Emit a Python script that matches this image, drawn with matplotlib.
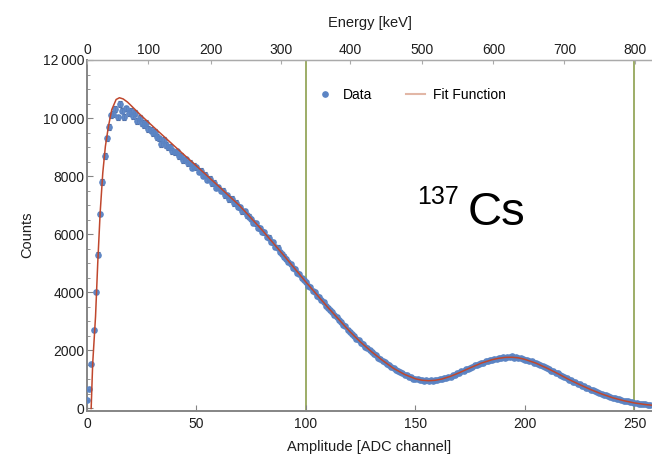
import numpy as np
import matplotlib
matplotlib.use("Agg")
import matplotlib.pyplot as plt
from matplotlib.lines import Line2D
from matplotlib.ticker import MultipleLocator, FuncFormatter

plt.rcParams['font.family'] = ['Liberation Sans', 'DejaVu Sans']

# ---------------- data ----------------
data_counts = [
    280, 660, 1530, 2700, 4000, 5300, 6700, 7800, 8700, 9300,
    9700, 10090, 10150, 10300, 10020, 10480, 10260, 10050, 10330, 10180,
    10250, 10060, 10180, 9900, 10010, 9820, 9760, 9840, 9620, 9580,
    9480, 9520, 9350, 9300, 9110, 9250, 9080, 8990, 9010, 8870,
    8820, 8850, 8700, 8690, 8540, 8580, 8450, 8470, 8290, 8350,
    8300, 8150, 8180, 8020, 8040, 7880, 7910, 7760, 7780, 7600,
    7620, 7490, 7500, 7340, 7350, 7200, 7230, 7060, 7080, 6950,
    6930, 6790, 6800, 6650, 6600, 6520, 6400, 6380, 6230, 6200,
    6090, 6060, 5910, 5880, 5740, 5720, 5560, 5540, 5400, 5330,
    5230, 5150, 5040, 4990, 4850, 4810, 4670, 4640, 4500, 4440,
    4340, 4230, 4190, 4060, 4010, 3880, 3840, 3720, 3660, 3540,
    3470, 3380, 3330, 3210, 3160, 3040, 2990, 2880, 2830, 2710,
    2640, 2560, 2510, 2400, 2360, 2260, 2220, 2130, 2090, 2000,
    1960, 1870, 1840, 1750, 1720, 1640, 1610, 1530, 1500, 1420,
    1390, 1320, 1300, 1240, 1220, 1160, 1150, 1090, 1080, 1030,
    1010, 1010, 970, 980, 950, 970, 940, 965, 950, 980,
    970, 1010, 1000, 1045, 1040, 1095, 1100, 1150, 1160, 1210,
    1220, 1280, 1290, 1350, 1360, 1410, 1430, 1480, 1490, 1540,
    1570, 1580, 1630, 1630, 1680, 1670, 1720, 1700, 1750, 1730,
    1760, 1745, 1780, 1760, 1790, 1750, 1770, 1740, 1740, 1700,
    1680, 1670, 1630, 1620, 1580, 1570, 1520, 1500, 1450, 1430,
    1380, 1360, 1300, 1280, 1230, 1210, 1150, 1130, 1070, 1050,
    990, 970, 920, 900, 850, 830, 780, 760, 710, 690,
    640, 625, 585, 565, 525, 505, 470, 450, 420, 400,
    365, 352, 325, 312, 288, 272, 250, 240, 220, 208,
    188, 180, 166, 158, 145, 137, 125, 118,
]
data_channel = list(range(len(data_counts)))

fit_channel = [1.9, 2.6, 3.9, 4.9, 6.0, 7.2, 8.4, 9.8, 11.3, 13.3, 14.8, 16.5,
               18.5, 20, 22, 24, 27, 30, 35, 40, 45, 50, 55, 60, 65, 70, 75,
               80, 85, 90, 95, 100, 105, 110, 115, 120, 125, 130, 135, 140,
               145, 150, 153, 156, 159, 162, 166, 170, 175, 180, 185, 188,
               191, 194, 197, 200, 205, 210, 215, 220, 225, 230, 235, 240,
               245, 250, 255, 258]
fit_counts = [0, 1550, 3170, 5000, 6730, 8110, 9030, 9720, 10290, 10640, 10700,
              10660, 10550, 10440, 10290, 10140, 9930, 9720, 9375, 9030, 8690,
              8350, 8005, 7660, 7310, 6960, 6550, 6140, 5700, 5260, 4805, 4350,
              3915, 3480, 3065, 2650, 2280, 1950, 1652, 1380, 1172, 1020, 972,
              956, 970, 1012, 1107, 1230, 1400, 1560, 1680, 1728, 1758, 1764,
              1743, 1690, 1560, 1390, 1200, 1000, 820, 650, 500, 370, 270, 190,
              135, 112]

# energy calibration (top axis): keV values and the ADC channel they sit at
energy_keV = [0, 100, 200, 300, 400, 500, 600, 700, 800]
energy_channel = [0.2, 28.0, 56.7, 88.6, 120.3, 152.8, 185.6, 218.0, 250.3]

marker_lines = [100, 250]
x_ticks = [0, 50, 100, 150, 200, 250]
y_ticks = [0, 2000, 4000, 6000, 8000, 10000, 12000]

# ---------------- figure ----------------
fig = plt.figure(figsize=(6.52, 4.58), dpi=100)
ax = fig.add_axes([87/652, 47.5/458, 565/652, 350.5/458])

blue = '#5b84c4'
red = '#c0472d'
olive = '#8c9f4e'
spine_col = '#858585'
txt = '#1e1e1e'
tick_fs = 10
label_fs = 10.5

for xl in marker_lines:
    ax.axvline(xl, color=olive, lw=1.2, zorder=1)

ax.errorbar(data_channel, data_counts, yerr=np.sqrt(data_counts), fmt='o',
            ms=3.8, color=blue, mec=blue, ecolor='#34497a', elinewidth=0.8,
            capsize=1.2, capthick=0.8, zorder=3, alpha=0.95)
ax.plot(fit_channel, fit_counts, color=red, lw=1.1, zorder=4)

ax.set_xlim(0, 258)
ax.set_ylim(-70, 12000)
ax.set_xticks(x_ticks)
ax.set_yticks(y_ticks)
ax.yaxis.set_minor_locator(MultipleLocator(500))
ax.yaxis.set_major_formatter(FuncFormatter(
    lambda v, p: (f"{int(v):,}".replace(',', '\u2009')) if v >= 10000 else f"{int(v)}"))

ax.tick_params(axis='both', which='major', direction='in', length=4, width=0.8,
               color=spine_col, labelsize=tick_fs, labelcolor=txt)
ax.tick_params(axis='both', which='minor', direction='in', length=2, width=0.6,
               color=spine_col)
ax.tick_params(axis='x', pad=5)
ax.tick_params(axis='y', pad=2)

for s in ['left', 'bottom']:
    ax.spines[s].set_color(spine_col)
    ax.spines[s].set_linewidth(1.4)
ax.spines['top'].set_color('#aaaaaa')
ax.spines['top'].set_linewidth(1.0)
ax.spines['right'].set_visible(False)

ax.set_xlabel('Amplitude [ADC channel]', fontsize=label_fs, color=txt, labelpad=6)
ax.set_ylabel('Counts', fontsize=label_fs, color=txt, labelpad=6)

# top energy axis
ax2 = ax.twiny()
ax2.set_xlim(ax.get_xlim())
ax2.set_xticks(energy_channel)
ax2.set_xticklabels([str(e) for e in energy_keV])
ax2.tick_params(axis='x', direction='in', length=3, width=0.8, color='#aaaaaa',
                labelsize=tick_fs, labelcolor=txt, pad=2)
for s in ['left', 'bottom', 'right']:
    ax2.spines[s].set_visible(False)
ax2.spines['top'].set_color('#aaaaaa')
ax2.set_xlabel('Energy [keV]', fontsize=label_fs, color=txt, labelpad=12)

# legend
handles = [Line2D([], [], ls='none', marker='o', ms=3.8, color=blue),
           Line2D([], [], color='#e2b7a6', lw=1.5)]
ax.legend(handles, ['Data', 'Fit Function'], loc='center',
          bbox_to_anchor=(0.573, 0.9), ncol=2, frameon=False, fontsize=tick_fs,
          handlelength=1.4, columnspacing=2.4, handletextpad=0.6)

# isotope annotation
ax.text(0.584, 0.588, '137', transform=ax.transAxes, fontsize=18,
        ha='left', va='baseline', color='black')
ax.text(0.674, 0.529, 'Cs', transform=ax.transAxes, fontsize=34,
        ha='left', va='baseline', color='black')

fig.savefig('out.png', dpi=100)
